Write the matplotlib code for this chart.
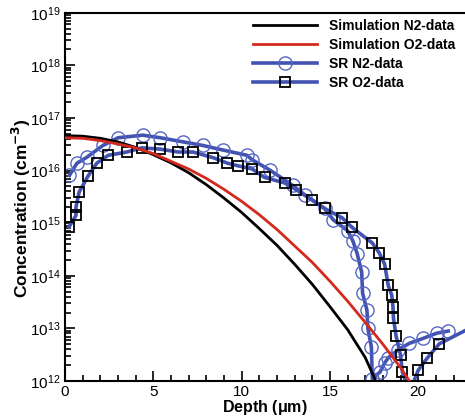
import matplotlib
matplotlib.use("Agg")
import matplotlib.pyplot as plt
from matplotlib.ticker import LogLocator, MultipleLocator, NullFormatter

plt.rcParams['font.family'] = ['Liberation Sans', 'DejaVu Sans']

# Simulation profiles
sim_x_n2 = [0, 1, 2, 3, 4, 5, 6, 7, 8, 9, 10, 11, 12, 13, 14, 15, 16, 17, 17.6]
sim_n2 = [4.6e16, 4.5e16, 4.1e16, 3.5e16, 2.75e16, 2.0e16, 1.4e16, 9.1e15, 5.4e15,
          3.0e15, 1.6e15, 7.9e14, 3.8e14, 1.66e14, 6.9e13, 2.6e13, 9.5e12, 2.8e12, 1.0e12]

sim_x_o2 = [0, 1, 2, 3, 4, 5, 6, 7, 8, 9, 10, 11, 12, 13, 14, 15, 16, 17, 18, 19, 19.5]
sim_o2 = [4.2e16, 4.1e16, 3.7e16, 3.2e16, 2.7e16, 2.1e16, 1.5e16, 1.07e16, 7.1e15,
          4.4e15, 2.6e15, 1.45e15, 7.6e14, 3.7e14, 1.8e14, 7.9e13, 3.3e13, 1.3e13,
          5.0e12, 1.8e12, 1.0e12]

# Spreading resistance measurements
sr_x_n2 = [0.25, 0.68, 1.25, 2.15, 3.0, 4.4, 5.4, 6.7, 7.8, 8.95, 10.3, 10.6, 11.6,
           12.9, 13.6, 14.7, 15.2, 16.0, 16.3, 16.55, 16.8, 16.85, 17.1, 17.15,
           17.35, 17.4, 17.85, 18.1, 18.3, 18.85, 19.5, 20.3, 21.05, 21.7]
sr_n2 = [8.1e15, 1.38e16, 1.8e16, 3.0e16, 4.2e16, 4.7e16, 4.2e16, 3.5e16, 3.0e16,
         2.45e16, 1.95e16, 1.6e16, 1.02e16, 5.2e15, 3.4e15, 1.9e15, 1.15e15, 7.2e14,
         4.6e14, 2.6e14, 1.17e14, 4.7e13, 2.2e13, 1.0e13, 4.4e12, 1.1e12, 1.5e12,
         2.2e12, 2.75e12, 3.9e12, 5.2e12, 6.5e12, 8.1e12, 8.9e12]

sr_x_o2 = [0.23, 0.62, 0.62, 0.8, 1.3, 1.8, 2.45, 3.5, 4.36, 5.4, 6.4, 7.25, 8.4,
           9.2, 9.8, 10.6, 11.3, 12.45, 13.1, 14.0, 14.7, 15.7, 16.25, 17.4, 17.8,
           18.1, 18.3, 18.5, 18.57, 18.6, 18.75, 19.0, 19.1, 19.5, 20.0, 20.5, 21.2, 22.9]
sr_o2 = [8.5e14, 1.4e15, 2.0e15, 3.9e15, 7.8e15, 1.38e16, 1.95e16, 2.25e16, 2.7e16,
         2.55e16, 2.25e16, 2.25e16, 1.75e16, 1.38e16, 1.23e16, 1.07e16, 7.4e15,
         5.8e15, 4.3e15, 2.75e15, 1.9e15, 1.26e15, 8.3e14, 4.2e14, 2.7e14, 1.66e14,
         6.6e13, 4.3e13, 2.6e13, 1.55e13, 7.1e12, 3.1e12, 1.5e12, 6.0e11, 1.6e12,
         2.7e12, 5.1e12, 1.0e13]
o2_marked = [i for i in range(len(sr_x_o2)) if i not in (33, 37)]

x_ticks = [0, 5, 10, 15, 20]
y_ticks = [1e12, 1e13, 1e14, 1e15, 1e16, 1e17, 1e18, 1e19]

blue = "#4353b2"

fig = plt.figure(figsize=(4.65, 4.19), dpi=100)
ax = fig.add_axes([65 / 465, 1 - 381 / 419, 1 - 65 / 465, (381 - 12.7) / 419])

ax.plot(sr_x_n2, sr_n2, color=blue, lw=2.6, marker='o', ms=9.5, mfc='none',
        mec="#5566c4", mew=1.0, label="SR N2-data", zorder=2)
ax.plot(sr_x_o2, sr_o2, color=blue, lw=2.6, marker='s', ms=7.5, mfc='none',
        mec='black', mew=1.3, markevery=o2_marked, label="SR O2-data", zorder=2.5)
ax.plot(sim_x_n2, sim_n2, color='black', lw=2.0, label="Simulation N2-data", zorder=3)
ax.plot(sim_x_o2, sim_o2, color='#d42a1e', lw=2.0, label="Simulation O2-data", zorder=3)

ax.set_yscale('log')
ax.set_ylim(1e12, 1e19)
ax.set_xlim(0, 22.65)
ax.set_xticks(x_ticks)
ax.set_xticks(range(1, 23), minor=True)
ax.set_yticks(y_ticks)
ax.yaxis.set_minor_locator(LogLocator(base=10, subs=range(2, 10), numticks=100))
ax.yaxis.set_minor_formatter(NullFormatter())
ax.xaxis.set_minor_formatter(NullFormatter())
ax.tick_params(which='both', direction='in', top=False, right=False,
               labelsize=11, width=1.2)
ax.tick_params(which='major', length=7, pad=3)
ax.tick_params(which='minor', length=4)
ax.spines['right'].set_visible(False)
for s in ('left', 'bottom', 'top'):
    ax.spines[s].set_linewidth(1.5)

ax.set_xlabel("Depth ($\\mathregular{\\mu}$m)", fontsize=11.5, fontweight='bold', labelpad=-1)
ax.set_ylabel("Concentration (cm$^{\\mathbf{-3}}$)", fontsize=12.5, fontweight='bold', labelpad=-1)
ax.yaxis.set_label_coords(-0.08, 0.47)

handles, labels = ax.get_legend_handles_labels()
order = [2, 3, 0, 1]
leg = fig.legend([handles[i] for i in order], [labels[i] for i in order],
                 loc='upper left', bbox_to_anchor=(253 / 465, 1 - 19 / 419),
                 frameon=False, borderpad=0, borderaxespad=0,
                 handlelength=4.6, handletextpad=0.9, labelspacing=0.35,
                 prop={'weight': 'bold', 'size': 10})

fig.savefig("out.png", dpi=100)
